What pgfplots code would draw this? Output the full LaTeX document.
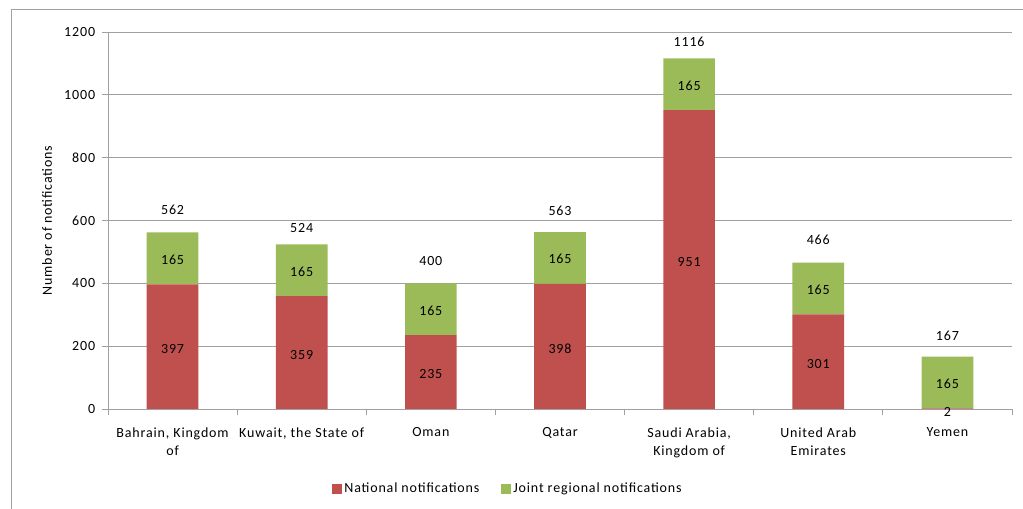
\documentclass[border=0pt]{standalone}
\usepackage{pgfplots}
\pgfplotsset{compat=1.18}
\usepackage{fontspec}
\setmainfont{Carlito}[LetterSpace=6]
\definecolor{natred}{HTML}{C0504D}
\definecolor{jointgreen}{HTML}{9BBB59}
\definecolor{gridgray}{HTML}{A0A0A0}
\newcommand{\chartfont}{\fontsize{14bp}{17bp}\selectfont}
\begin{document}
\chartfont
\begin{tikzpicture}
\useasboundingbox (0,0) rectangle (1023bp,509bp);
\draw[gridgray, line width=1bp] (11bp,0) -- (11bp,499bp) -- (1023bp,499bp);
\begin{axis}[
  at={(108bp,100bp)}, anchor=south west,
  scale only axis, width=904bp, height=377bp,
  ybar stacked, bar width=0.4,
  xmin=-0.5, xmax=6.5, ymin=0, ymax=1200,
  xtick={0,...,6},
  xticklabels={{Bahrain, Kingdom\\of},{Kuwait, the State of},{Oman},{Qatar},{Saudi Arabia,\\Kingdom of},{United Arab\\Emirates},{Yemen}},
  xticklabel style={align=center, font=\fontsize{14bp}{18bp}\selectfont, yshift=-8bp},
  major x tick style={draw=none},
  minor xtick={-0.5,0.5,...,6.5},
  minor x tick style={gridgray, line width=0.8bp},
  minor tick length=6bp,
  ytick={0,200,...,1200},
  y tick style={gridgray, line width=0.8bp},
  major tick length=6bp,
  tick align=outside,
  ymajorgrids, grid style={gridgray, line width=0.8bp},
  axis lines*=left,
  axis line style={gridgray, line width=0.8bp},
  yticklabel style={font=\chartfont, xshift=-2bp},
  /pgf/number format/assume math mode=true,
  /pgf/number format/1000 sep={},
  ylabel={Number of notifications},
  every axis y label/.style={at={(axis description cs:-0.0675,0.5)}, rotate=90, anchor=center, font=\chartfont},
  legend style={at={(0.4425,-0.212)}, anchor=center, draw=none, legend columns=2,
    font=\chartfont,
    /tikz/every even column/.append style={column sep=20bp}},
  legend image code/.code={\fill[#1] (0bp,-5bp) rectangle (10bp,5bp);},
]
\addplot[fill=natred, draw=none] coordinates {(0,397) (1,359) (2,235) (3,398) (4,951) (5,301) (6,2)};
\addlegendentry{National notifications}
\addplot[fill=jointgreen, draw=none] coordinates {(0,165) (1,165) (2,165) (3,165) (4,165) (5,165) (6,165)};
\addlegendentry{Joint regional notifications}
\end{axis}
\begin{axis}[
  at={(108bp,100bp)}, anchor=south west,
  scale only axis, width=904bp, height=377bp,
  xmin=-0.5, xmax=6.5, ymin=0, ymax=1200,
  hide axis, clip=false,
  every node near coord/.style={anchor=center, font=\chartfont, text=black},
]
% national labels
\addplot[draw=none, mark=none, nodes near coords, point meta=explicit symbolic]
  table[meta=label] {
x y label
0 192 397
1 173 359
2 111 235
3 193 398
4 468 951
5 144 301
6 -10 2
};
% joint labels
\addplot[draw=none, mark=none, nodes near coords, point meta=explicit symbolic]
  table[meta=label] {
x y label
0 476 165
1 438 165
2 314 165
3 477 165
4 1030 165
5 380 165
6 80 165
};
% totals
\addplot[draw=none, mark=none, nodes near coords, point meta=explicit symbolic]
  table[meta=label] {
x y label
0 633 562
1 576 524
2 471 400
3 630 563
4 1168 1116
5 538 466
6 232 167
};
\end{axis}
\end{tikzpicture}
\end{document}
